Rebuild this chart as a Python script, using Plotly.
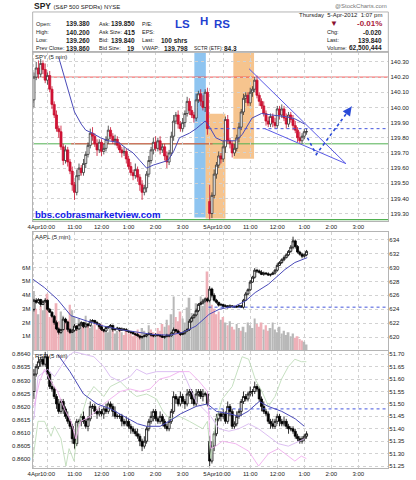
import plotly.graph_objects as go

# ---------------- DATA ----------------
time_tick_pos = [0, 6, 18, 30, 42, 54, 66, 78, 84, 96, 108, 120, 132, 144]
time_tick_text = ["4Apr", "10:00", "11:00", "12:00", "1:00", "2:00", "3:00",
                  "5Apr", "10:00", "11:00", "12:00", "1:00", "2:00", "3:00"]

spy_session_open = [140.05, 139.38]
spy_close_d1 = [140.20, 140.26, 140.22, 140.29, 140.25, 140.18, 140.21, 140.12, 140.02, 139.95,
                139.86, 139.84, 139.74, 139.65, 139.72, 139.64, 139.58, 139.49, 139.44, 139.55,
                139.60, 139.57, 139.63, 139.69, 139.75, 139.83, 139.81, 139.76, 139.72, 139.77,
                139.71, 139.73, 139.79, 139.85, 139.81, 139.78, 139.79, 139.75, 139.72, 139.70,
                139.71, 139.66, 139.61, 139.57, 139.55, 139.59, 139.54, 139.49, 139.44, 139.47,
                139.56, 139.65, 139.72, 139.77, 139.73, 139.78, 139.72, 139.74, 139.68, 139.64,
                139.70, 139.81, 139.91, 139.95, 139.89, 139.86, 139.90, 139.96, 140.04, 139.98,
                139.95, 139.93, 140.05, 140.09, 140.04, 140.00, 140.10, 139.86]
spy_close_d2 = [139.30, 139.42, 139.56, 139.62, 139.68, 139.66, 139.74, 139.92, 139.78, 139.76,
                139.70, 139.73, 139.80, 139.87, 139.97, 140.06, 140.08, 140.03, 140.10, 140.12,
                140.18, 140.08, 140.04, 140.01, 139.96, 139.91, 139.89, 139.94, 139.90, 139.88,
                139.99, 139.95, 139.99, 139.93, 139.89, 139.95, 139.92, 139.88, 139.85, 139.80,
                139.78, 139.81, 139.84, 139.84]
# wick lengths in cents
spy_wick_up = [3, 4, 5, 3, 2, 4, 2, 3, 2, 2, 3, 2, 4, 2, 3, 2, 2, 3, 2, 4,
               3, 2, 3, 2, 2, 3, 4, 2, 3, 2, 2, 3, 2, 3, 2, 2, 3, 2, 2, 2,
               3, 2, 2, 3, 2, 4, 2, 2, 3, 2, 2, 3, 2, 3, 4, 2, 3, 2, 2, 3,
               2, 3, 4, 2, 3, 2, 3, 2, 3, 2, 3, 2, 4, 2, 3, 4, 2, 3,
               11, 2, 3, 2, 3, 2, 4, 2, 3, 2, 2, 3, 2, 3, 2, 3, 2, 2, 3, 2,
               2, 3, 2, 2, 3, 2, 3, 2, 2, 3, 2, 2, 3, 2, 3, 2, 2, 3, 3, 2,
               4, 2, 2, 2]
spy_wick_dn = [5, 2, 3, 2, 3, 2, 3, 2, 3, 2, 2, 4, 2, 3, 2, 3, 2, 4, 5, 2,
               3, 2, 2, 3, 2, 2, 3, 2, 4, 2, 3, 2, 2, 3, 2, 2, 3, 2, 2, 3,
               2, 3, 2, 2, 3, 2, 3, 4, 5, 2, 3, 2, 2, 3, 2, 2, 3, 2, 3, 4,
               2, 2, 3, 2, 3, 2, 2, 3, 2, 3, 2, 3, 2, 2, 3, 2, 3, 4,
               4, 3, 2, 3, 2, 3, 2, 4, 2, 3, 3, 2, 2, 3, 2, 2, 3, 2, 2, 3,
               2, 2, 3, 2, 2, 3, 2, 2, 3, 2, 2, 3, 2, 2, 3, 2, 2, 3, 2, 3,
               2, 2, 2, 2]
spy_ma_x = [11, 15, 18, 21, 23, 26, 29.5, 33, 37.5, 41, 44, 47, 50, 53, 57, 59.5, 62, 64.6,
            69, 72, 76, 77.8, 80.7, 83.6, 89.5, 92.4, 96.8, 101, 105.5, 111.4, 115.8, 120.2]
spy_ma_y = [140.33, 140.13, 139.97, 139.89, 139.85, 139.83, 139.80, 139.78, 139.77, 139.73,
            139.70, 139.65, 139.60, 139.62, 139.64, 139.65, 139.71, 139.80, 139.83, 139.86,
            139.91, 139.875, 139.80, 139.78, 139.78, 139.82, 139.93, 139.96, 139.95, 139.94,
            139.925, 139.89]
spy_prev_close = 139.86
spy_high_line = 140.20
spy_support_line = 139.76
spy_low_line = 139.26
wedge_upper_x = [95.5, 138.5]
wedge_upper_y = [140.255, 139.629]
wedge_lower_x = [102.5, 138.5]
wedge_lower_y = [139.86, 139.629]
arrow_x = [121.4, 125.3, 141.0]
arrow_y = [139.80, 139.69, 140.006]
zone_ls = [71.2, 76.3, 139.274, 140.363]
zone_h = [76.2, 85.0, 139.267, 139.958]
zone_rs = [88.5, 97.7, 139.662, 140.363]

aapl_session_open = [624.0, 625.3]
aapl_close_d1 = [625.3, 625.0, 625.4, 624.7, 625.1, 625.3, 624.0, 623.6, 623.0, 622.1,
                 621.2, 620.7, 621.1, 622.6, 622.2, 621.1, 620.7, 621.0, 621.6, 621.2,
                 621.8, 622.1, 621.5, 621.9, 621.7, 622.3, 622.4, 622.1, 621.9, 621.5,
                 621.1, 620.9, 621.4, 621.5, 621.7, 621.1, 621.2, 621.3, 621.0, 621.2,
                 621.1, 620.9, 620.8, 620.7, 620.5, 620.4, 620.2, 620.0, 620.1, 620.2,
                 620.4, 620.5, 620.3, 620.2, 620.4, 620.3, 620.2, 620.0, 620.1, 620.3,
                 620.2, 620.6, 621.1, 620.9, 620.6, 620.4, 620.6, 620.9, 621.1, 622.3,
                 622.8, 623.2, 623.8, 624.7, 624.9, 625.2, 625.5, 625.2]
aapl_close_d2 = [626.9, 626.0, 625.3, 625.0, 624.6, 624.7, 624.4, 624.5, 624.3, 624.5,
                 624.4, 624.3, 624.4, 624.5, 624.3, 625.3, 626.2, 626.8, 627.9, 628.6,
                 629.6, 629.5, 629.3, 629.0, 629.2, 629.1, 628.9, 629.0, 629.2, 629.6,
                 630.3, 630.7, 631.1, 631.4, 631.8, 632.3, 632.9, 633.8, 633.0, 632.2,
                 631.9, 631.6, 631.8, 632.3]
# wick lengths in tenths of a dollar
aapl_wick_up = [2, 3, 2, 1, 2, 3, 1, 2, 1, 2, 3, 2, 1, 3, 2, 1, 2, 2, 3, 1,
                2, 2, 1, 2, 1, 3, 2, 1, 2, 1, 2, 1, 2, 1, 2, 1, 1, 2, 1, 2,
                1, 2, 1, 1, 2, 1, 2, 1, 1, 2, 1, 2, 1, 1, 2, 1, 1, 2, 1, 2,
                1, 2, 3, 1, 2, 1, 2, 1, 2, 3, 2, 2, 3, 2, 2, 3, 2, 2,
                4, 2, 3, 2, 1, 2, 1, 2, 1, 2, 1, 1, 2, 1, 1, 2, 3, 2, 3, 2,
                3, 2, 2, 3, 2, 1, 2, 1, 2, 2, 3, 2, 2, 3, 2, 2, 3, 6, 2, 2,
                2, 2, 2, 2]
aapl_wick_dn = [3, 2, 2, 3, 1, 2, 2, 1, 2, 3, 2, 3, 2, 1, 2, 3, 2, 1, 2, 3,
                1, 2, 2, 1, 3, 2, 1, 2, 2, 3, 2, 2, 1, 2, 1, 3, 2, 1, 2, 1,
                2, 1, 2, 2, 1, 2, 1, 3, 2, 1, 2, 1, 2, 2, 1, 2, 2, 1, 2, 1,
                2, 1, 2, 2, 1, 2, 1, 2, 1, 2, 2, 1, 2, 2, 1, 2, 2, 2,
                3, 3, 2, 2, 2, 1, 2, 1, 2, 1, 2, 1, 1, 2, 1, 2, 1, 2, 2, 1,
                2, 3, 2, 1, 2, 2, 1, 2, 1, 2, 2, 1, 2, 2, 1, 2, 2, 3, 3, 2,
                2, 3, 2, 2]
aapl_ma_x = [-0.4, 4.7, 10.5, 16.4, 23.7, 31, 38.3, 45.6, 52.9, 60.2, 66.1, 71.9, 77.8,
             82.2, 89.5, 93.9, 98.2, 104.1, 111.4, 115.8, 121.3]
aapl_ma_y = [628.3, 627.1, 625.4, 623.1, 622.3, 621.6, 621.1, 620.7, 620.4, 620.3, 620.7,
             621.6, 623.3, 624.0, 624.5, 625.2, 626.4, 627.6, 629.7, 630.7, 631.4]
aapl_prev_close = 624.31
aapl_volume_m = [4.3, 3.0, 2.6, 3.2, 2.9, 3.4, 4.1, 2.4, 2.6, 2.3, 3.4, 2.1, 2.8, 2.5, 2.0, 2.2,
                 3.3, 2.9, 2.4, 1.8, 2.3, 2.0, 1.7, 2.5, 1.9, 1.6, 1.8, 2.1, 1.5, 1.7, 1.9, 1.4,
                 1.6, 1.3, 1.8, 1.5, 1.2, 1.4, 1.6, 1.3, 1.1, 1.5, 1.2, 1.4, 1.0, 1.3, 1.5, 1.2,
                 1.6, 1.4, 1.1, 1.8, 1.5, 1.3, 1.2, 1.6, 1.4, 1.9, 1.7, 2.2, 1.8, 2.6, 3.9, 2.4,
                 2.1, 2.8, 2.3, 2.0, 3.1, 3.8, 2.7, 2.5, 3.4, 3.0, 3.9, 3.2, 3.5, 5.7,
                 3.8, 3.3, 3.0, 2.6, 2.8, 2.2, 2.4, 2.0, 1.8, 2.1, 1.7, 1.5, 1.9, 1.6, 1.4, 1.7,
                 1.3, 2.0, 1.8, 1.6, 2.3, 1.9, 1.7, 2.0, 1.5, 1.8, 1.4, 1.6, 2.0, 1.5, 1.3, 1.7,
                 1.2, 1.4, 1.1, 1.3, 1.0, 1.2, 0.9, 1.0, 0.8, 0.7, 0.6, 0.4]
vol_ticks = [1, 2, 3, 4, 5, 6]
vol_tick_text = ["1M", "2M", "3M", "4M", "5M", "6M"]
aapl_ticks = [620, 622, 624, 626, 628, 630, 632, 634]

rsp_session_open = [51.55, 51.35]
rsp_close_d1 = [51.62, 51.65, 51.67, 51.68, 51.66, 51.69, 51.62, 51.57, 51.56, 51.53,
                51.50, 51.47, 51.51, 51.48, 51.45, 51.43, 51.41, 51.36, 51.34, 51.43,
                51.43, 51.45, 51.43, 51.41, 51.44, 51.49, 51.49, 51.47, 51.46, 51.47,
                51.46, 51.48, 51.47, 51.50, 51.49, 51.47, 51.45, 51.45, 51.45, 51.43,
                51.42, 51.43, 51.41, 51.40, 51.39, 51.38, 51.37, 51.35, 51.33, 51.35,
                51.40, 51.43, 51.45, 51.47, 51.44, 51.43, 51.45, 51.43, 51.41, 51.40,
                51.43, 51.47, 51.53, 51.52, 51.50, 51.53, 51.51, 51.50, 51.54, 51.55,
                51.52, 51.50, 51.54, 51.55, 51.53, 51.54, 51.54, 51.50]
rsp_close_d2 = [51.27, 51.33, 51.38, 51.44, 51.46, 51.45, 51.46, 51.43, 51.49, 51.47,
                51.41, 51.42, 51.45, 51.47, 51.51, 51.53, 51.52, 51.54, 51.55, 51.55,
                51.57, 51.56, 51.52, 51.49, 51.47, 51.46, 51.43, 51.42, 51.41, 51.43,
                51.45, 51.43, 51.42, 51.43, 51.41, 51.40, 51.40, 51.39, 51.37, 51.36,
                51.35, 51.36, 51.37, 51.38]
rsp_wick_up = [2, 1, 2, 1, 1, 2, 1, 1, 2, 1, 1, 2, 1, 1, 1, 2, 1, 1, 2, 1,
               1, 1, 2, 1, 1, 2, 1, 1, 1, 2, 1, 1, 2, 1, 1, 1, 2, 1, 1, 1,
               1, 2, 1, 1, 1, 1, 2, 1, 1, 2, 1, 1, 2, 1, 1, 1, 2, 1, 1, 1,
               2, 1, 2, 1, 1, 2, 1, 1, 2, 1, 1, 1, 2, 1, 1, 2, 1, 1,
               2, 2, 1, 2, 1, 1, 2, 1, 2, 1, 1, 1, 2, 1, 1, 2, 1, 1, 2, 1,
               2, 1, 1, 1, 2, 1, 1, 1, 2, 1, 1, 1, 1, 2, 1, 1, 1, 1, 1, 1,
               1, 1, 1, 1]
rsp_wick_dn = [3, 1, 1, 2, 1, 1, 2, 1, 1, 1, 2, 1, 1, 2, 1, 1, 1, 2, 2, 1,
               1, 2, 1, 1, 2, 1, 1, 1, 2, 1, 1, 2, 1, 1, 1, 2, 1, 1, 1, 2,
               1, 1, 1, 2, 1, 1, 1, 2, 2, 1, 1, 1, 1, 2, 1, 1, 1, 2, 1, 1,
               1, 1, 1, 2, 1, 1, 1, 2, 1, 1, 2, 1, 1, 1, 1, 2, 1, 1,
               2, 1, 2, 1, 1, 2, 1, 1, 1, 2, 1, 1, 1, 1, 2, 1, 1, 1, 1, 2,
               1, 1, 1, 2, 1, 1, 1, 2, 1, 1, 1, 2, 1, 1, 1, 2, 1, 1, 1, 1,
               1, 1, 1, 1]
rsp_ma_x = [10.5, 16, 22, 28, 34, 40, 46, 50, 56, 60, 65, 72, 77, 81, 87, 91, 95, 100, 104, 110, 116, 120]
rsp_ma_y = [51.70, 51.63, 51.54, 51.50, 51.48, 51.45, 51.42, 51.41, 51.41, 51.43, 51.46, 51.49,
            51.50, 51.47, 51.46, 51.45, 51.47, 51.51, 51.49, 51.47, 51.44, 51.41]
rsp_prev_close = 51.48
rsp_ticks = [51.25, 51.30, 51.35, 51.40, 51.45, 51.50, 51.55, 51.60, 51.65, 51.70]
ratio_ticks = [0.8600, 0.8605, 0.8610, 0.8615, 0.8620, 0.8625, 0.8630, 0.8635, 0.8640]
cmp_green_x = [-0.4, 1.8, 4.7, 7.6, 9.1, 12, 14.2, 15.6, 17.8, 19.3, 23.7, 26.6, 31, 33.9, 38.3,
               42.7, 45.6, 50, 54.4, 57.3, 60.2, 64.6, 69, 74.9, 77, 78.5, 80.7, 83.6, 88, 92.4,
               95.3, 98.2, 101.2, 104.1, 107, 109.9, 112.9, 115.8, 118.7, 120.9]
cmp_green_y = [51.28, 51.43, 51.43, 51.37, 51.41, 51.36, 51.25, 51.32, 51.27, 51.40, 51.53, 51.57,
               51.53, 51.57, 51.59, 51.55, 51.53, 51.54, 51.52, 51.47, 51.44, 51.45, 51.43, 51.40,
               51.43, 51.28, 51.43, 51.52, 51.57, 51.69, 51.68, 51.60, 51.55, 51.49, 51.53, 51.60,
               51.65, 51.68, 51.67, 51.67]
cmp_violet_x = [0, 1.8, 6.1, 9.1, 12, 14.9, 17.8, 22.2, 26.6, 31, 33.9, 38.3, 42.7, 45.6, 50, 54.4,
                60.2, 66.1, 69, 71.9, 76.3, 78.5, 82.2, 86.5, 90.9, 95.3, 99.7, 104.1, 108.5,
                112.9, 117.3, 120.2]
cmp_violet_y = [51.44, 51.61, 51.64, 51.61, 51.65, 51.69, 51.71, 51.70, 51.69, 51.65, 51.61, 51.59,
                51.61, 51.64, 51.62, 51.63, 51.63, 51.63, 51.57, 51.51, 51.47, 51.45, 51.40, 51.39,
                51.40, 51.42, 51.40, 51.37, 51.34, 51.33, 51.35, 51.36]
cmp_pink_x = [0, 2.5, 4.7, 6.9, 10.5, 13.5, 16.4, 18.6, 20.8, 25.1, 29.5, 33.9, 38.3, 42.7, 47.1,
              51.5, 55.8, 60.2, 64.6, 69, 73.4, 77, 78.5, 80.7, 83.6, 89.5, 95.3, 99.7, 104.1,
              108.5, 112.9, 115.8, 118.7, 120.9]
cmp_pink_y = [51.49, 51.59, 51.64, 51.60, 51.55, 51.48, 51.43, 51.36, 51.43, 51.45, 51.49, 51.52,
              51.55, 51.56, 51.55, 51.56, 51.60, 51.61, 51.63, 51.63, 51.59, 51.55, 51.32, 51.33,
              51.35, 51.34, 51.31, 51.25, 51.30, 51.32, 51.29, 51.27, 51.29, 51.28]

hdr_col1_labels = ["Open:", "High:", "Low:", "Prev Close:"]
hdr_col1_values = ["139.380", "140.200", "139.260", "139.860"]
hdr_col2_labels = ["Ask:", "Ask Size:", "Bid:", "Bid Size:"]
hdr_col2_values = ["139.850", "415", "139.840", "19"]
hdr_col3_labels = ["P/E:", "EPS:", "Last:", "VWAP:"]
hdr_col3_values = ["", "", "100 shrs", "139.798"]
hdr_right_labels = ["", "Chg:", "Last:", "Volume:"]
hdr_right_values = ["-0.01%", "-0.020", "139.840", "62,500,444"]

# ---------------- BUILD ----------------
W, H = 416, 480
def PX(v): return v / W
def PY(v): return 1 - v / H

FONT = "Liberation Sans, Arial, sans-serif"
TXT = "#222222"

n1 = len(spy_close_d1)
xs = list(range(n1 + len(spy_close_d2)))

def ohlc(c1, c2, sess, up, dn, unit):
    c = c1 + c2
    o, h, l = [], [], []
    for i, cl in enumerate(c):
        if i == 0:
            op = sess[0]
        elif i == len(c1):
            op = sess[1]
        else:
            op = c[i - 1]
        o.append(op)
        h.append(max(op, cl) + up[i] * unit)
        l.append(min(op, cl) - dn[i] * unit)
    return o, h, l, c

so, sh, sl, sc = ohlc(spy_close_d1, spy_close_d2, spy_session_open, spy_wick_up, spy_wick_dn, 0.01)
ao, ah, al, ac = ohlc(aapl_close_d1, aapl_close_d2, aapl_session_open, aapl_wick_up, aapl_wick_dn, 0.1)
ro, rh, rl, rc = ohlc(rsp_close_d1, rsp_close_d2, rsp_session_open, rsp_wick_up, rsp_wick_dn, 0.01)

XR = [-0.57, 157.3]
dom_x = [PX(28), PX(388)]
fig = go.Figure()

# ---- SPY panel
fig.add_trace(go.Scatter(x=spy_ma_x, y=spy_ma_y, mode="lines", line=dict(color="#4a4ab8", width=1),
                         xaxis="x", yaxis="y"))
fig.add_trace(go.Scatter(x=[n1 - 0.5, XR[1]], y=[spy_prev_close] * 2, mode="lines",
                         line=dict(color="#4455dd", width=1, dash="dot"), xaxis="x", yaxis="y"))
fig.add_trace(go.Candlestick(x=xs, open=so, high=sh, low=sl, close=sc, xaxis="x", yaxis="y",
                             increasing=dict(line=dict(color="#333333", width=0.8), fillcolor="#ffffff"),
                             decreasing=dict(line=dict(color="#c8102e", width=0.8), fillcolor="#d41238"),
                             whiskerwidth=0))
fig.add_trace(go.Scatter(x=wedge_upper_x, y=wedge_upper_y, mode="lines",
                         line=dict(color="#5a5ae6", width=1), xaxis="x", yaxis="y"))
fig.add_trace(go.Scatter(x=wedge_lower_x, y=wedge_lower_y, mode="lines",
                         line=dict(color="#5a5ae6", width=1), xaxis="x", yaxis="y"))
fig.add_trace(go.Scatter(x=arrow_x, y=arrow_y, mode="lines",
                         line=dict(color="#2a4ad8", width=1.6, dash="dot"), xaxis="x", yaxis="y"))

# ---- AAPL panel
vcols = ["#eeb0b8" if ac[i] < ao[i] else "#b8b8b8" for i in range(len(xs))]
fig.add_trace(go.Bar(x=xs, y=aapl_volume_m, marker=dict(color=vcols, line=dict(width=0)),
                     width=0.8, xaxis="x2", yaxis="y2"))
fig.add_trace(go.Scatter(x=[n1 - 0.5, XR[1]], y=[aapl_prev_close] * 2, mode="lines",
                         line=dict(color="#4455dd", width=1, dash="dot"), xaxis="x2", yaxis="y3"))
fig.add_trace(go.Scatter(x=aapl_ma_x, y=aapl_ma_y, mode="lines", line=dict(color="#4a4ab8", width=1),
                         xaxis="x2", yaxis="y3"))
fig.add_trace(go.Candlestick(x=xs, open=ao, high=ah, low=al, close=ac, xaxis="x2", yaxis="y3",
                             increasing=dict(line=dict(color="#000000", width=0.8), fillcolor="#ffffff"),
                             decreasing=dict(line=dict(color="#000000", width=0.8), fillcolor="#000000"),
                             whiskerwidth=0))

# ---- RSP panel
fig.add_trace(go.Scatter(x=[0], y=[ratio_ticks[0]], mode="markers", marker=dict(opacity=0),
                         xaxis="x3", yaxis="y4"))
fig.add_trace(go.Scatter(x=cmp_green_x, y=cmp_green_y, mode="lines", line=dict(color="#c0dcba", width=0.9),
                         xaxis="x3", yaxis="y5"))
fig.add_trace(go.Scatter(x=cmp_violet_x, y=cmp_violet_y, mode="lines", line=dict(color="#d8b8f0", width=0.9),
                         xaxis="x3", yaxis="y5"))
fig.add_trace(go.Scatter(x=cmp_pink_x, y=cmp_pink_y, mode="lines", line=dict(color="#f0aeee", width=0.9),
                         xaxis="x3", yaxis="y5"))
fig.add_trace(go.Scatter(x=[n1 - 0.5, XR[1]], y=[rsp_prev_close] * 2, mode="lines",
                         line=dict(color="#4455dd", width=1, dash="dot"), xaxis="x3", yaxis="y5"))
fig.add_trace(go.Scatter(x=rsp_ma_x, y=rsp_ma_y, mode="lines", line=dict(color="#4a4ab8", width=1),
                         xaxis="x3", yaxis="y5"))
fig.add_trace(go.Candlestick(x=xs, open=ro, high=rh, low=rl, close=rc, xaxis="x3", yaxis="y5",
                             increasing=dict(line=dict(color="#000000", width=0.8), fillcolor="#ffffff"),
                             decreasing=dict(line=dict(color="#000000", width=0.8), fillcolor="#000000"),
                             whiskerwidth=0))

tickfont = dict(family=FONT, size=6, color=TXT)
grid = dict(showgrid=True, gridcolor="#d2d2d2", griddash="dot", gridwidth=1)
border = dict(showline=True, linecolor="#b4b4b4", linewidth=1, mirror=True)

def xax(anchor, show):
    return dict(domain=dom_x, range=XR, anchor=anchor, tickmode="array", tickvals=time_tick_pos,
                ticktext=time_tick_text, showticklabels=show, ticks="", tickfont=tickfont,
                tickangle=0, rangeslider=dict(visible=False), zeroline=False, **grid, **border)

def yax(dom, rng, vals, fmt, side, **kw):
    d = dict(domain=dom, range=rng, tickmode="array", tickvals=vals,
             ticktext=[fmt(v) for v in vals], side=side, ticks="", tickfont=tickfont,
             zeroline=False)
    d.update(kw)
    return d

d1 = [PY(221), PY(52.5)]
d2 = [PY(351), PY(232)]
d3 = [PY(469), PY(352)]

fig.update_layout(
    width=W, height=H, margin=dict(l=0, r=0, t=0, b=0),
    paper_bgcolor="white", plot_bgcolor="white", showlegend=False, hovermode=False,
    boxgap=0.1, boxgroupgap=0, bargap=0.15,
    xaxis=xax("y", True),
    xaxis2=xax("y2", False),
    xaxis3=xax("y4", True),
    yaxis=yax(d1, [139.254, 140.363], [139.3 + k * 0.1 for k in range(11)], lambda v: f"{v:.2f}",
              "right", anchor="x", **grid, **border),
    yaxis2=yax(d2, [-0.01, 8.61], vol_ticks, lambda v: vol_tick_text[vol_ticks.index(v)], "left",
               anchor="x2", showgrid=False, **border),
    yaxis3=yax(d2, [618.14, 635.14], aapl_ticks, lambda v: f"{v}", "right", anchor="x2",
               overlaying="y2", **grid),
    yaxis4=yax(d3, [0.859657, 0.864114], ratio_ticks, lambda v: f"{v:.4f}", "left", anchor="x3",
               showgrid=False, **border),
    yaxis5=yax(d3, [51.242, 51.712], rsp_ticks, lambda v: f"{v:.2f}", "right", anchor="x3",
               overlaying="y4", **grid),
)

shapes = []
for z, col in [(zone_ls, "#8ec4f0"), (zone_h, "#f6c48e"), (zone_rs, "#f6c48e")]:
    shapes.append(dict(type="rect", xref="x", yref="y", x0=z[0], x1=z[1], y0=z[2], y1=z[3],
                       fillcolor=col, line=dict(width=0), layer="below"))
shapes.append(dict(type="line", xref="x", yref="y", x0=XR[0], x1=XR[1], y0=spy_high_line, y1=spy_high_line,
                   line=dict(color="#ee5050", width=1), layer="below"))
shapes.append(dict(type="line", xref="x", yref="y", x0=XR[0], x1=XR[1], y0=spy_support_line,
                   y1=spy_support_line, line=dict(color="#50b050", width=1), layer="below"))
shapes.append(dict(type="line", xref="x", yref="y", x0=16.5, x1=79.3, y0=spy_support_line,
                   y1=spy_support_line, line=dict(color="#ee5050", width=1), layer="below"))
shapes.append(dict(type="line", xref="x", yref="y", x0=XR[0], x1=XR[1], y0=spy_low_line, y1=spy_low_line,
                   line=dict(color="#50b050", width=1.5), layer="below"))
# header box
shapes.append(dict(type="rect", xref="paper", yref="paper", x0=PX(28), x1=PX(388), y0=PY(52.5), y1=PY(12),
                   line=dict(color="#b4b4b4", width=1), fillcolor="rgba(0,0,0,0)"))
fig.update_layout(shapes=shapes)

ann = []
def T(x, y, text, size=6.5, color=TXT, xanchor="left", bold=False, fam=FONT):
    ann.append(dict(xref="paper", yref="paper", x=PX(x), y=PY(y), text=(f"<b>{text}</b>" if bold else text),
                    showarrow=False, xanchor=xanchor, yanchor="middle", borderpad=0,
                    font=dict(family=fam, size=size, color=color)))

LBL = 5.5
VAL = 6.5
T(28, 6, "<b>SPY</b> <span style='font-size:6px'>(S&amp;P 500 SPDRs) NYSE</span>", size=8.5)
T(388, 6, "@StockCharts.com", size=6, color="#777777", xanchor="right")
T(383, 15, "Thursday  5-Apr-2012  1:07 pm", size=6, xanchor="right")
rows = [24, 32.3, 40.3, 48.6]
for k, yy in enumerate(rows):
    T(30, yy, hdr_col1_labels[k], size=LBL)
    T(87, yy, hdr_col1_values[k], size=VAL, xanchor="right", bold=True)
    T(94, yy, hdr_col2_labels[k], size=LBL)
    T(133, yy, hdr_col2_values[k], size=VAL, xanchor="right", bold=True)
    T(138, yy, hdr_col3_labels[k], size=LBL)
    if hdr_col3_values[k]:
        T(186, yy, hdr_col3_values[k], size=VAL, xanchor="right", bold=True)
    if hdr_right_labels[k]:
        T(325, yy, hdr_right_labels[k], size=LBL)
T(383, rows[0], hdr_right_values[0], size=8, color="#aa1a3a", xanchor="right", bold=True)
for k in range(1, 4):
    T(383, rows[k], hdr_right_values[k], size=VAL, xanchor="right", bold=True)
T(328, rows[0], "▼", size=8, color="#8a1030")
T(190, rows[3], "SCTR (ETF):", size=5)
T(236, rows[3], "84.3", size=VAL, xanchor="right", bold=True)
T(180, 24, "LS", size=11.5, color="#1f3fd0", xanchor="center", bold=True)
T(201, 21, "H", size=11.5, color="#1f3fd0", xanchor="center", bold=True)
T(219.5, 24.5, "RS", size=11.5, color="#1f3fd0", xanchor="center", bold=True)
T(29, 57.5, "SPY (5 min)", size=6)
T(29, 237, "AAPL (5 min)", size=6)
T(29, 356.5, "RSP (5 min)", size=6)
T(29, 215, "bbs.cobrasmarketview.com", size=9.6, color="#1020e8", bold=True)
# arrow head of the dashed projection
ann.append(dict(xref="x", yref="y", x=arrow_x[-1], y=arrow_y[-1], ax=-5, ay=7, axref="pixel",
                ayref="pixel", showarrow=True, arrowhead=2, arrowsize=1.2, arrowwidth=1.5,
                arrowcolor="#2a4ad8", text=""))
fig.update_layout(annotations=ann)

fig.write_html("out.html")
